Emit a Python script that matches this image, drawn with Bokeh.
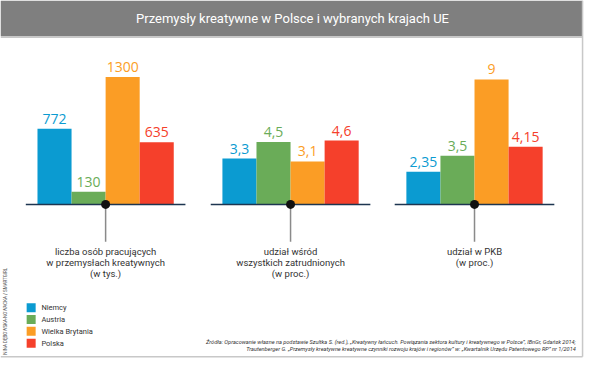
import math
from bokeh.plotting import figure
from bokeh.models import Range1d, ColumnDataSource
from bokeh.core.properties import value
from bokeh.embed import file_html
from bokeh.resources import INLINE

# ---------------- data ----------------
title = "Przemysły kreatywne w Polsce i wybranych krajach UE"
countries = ["Niemcy", "Austria", "Wielka Brytania", "Polska"]
colors = ["#0b9bd1", "#6aac58", "#fb9d25", "#f5402b"]
employed_thousands = [772, 130, 1300, 635]
share_of_employment = [3.3, 4.5, 3.1, 4.6]
share_of_gdp = [2.35, 3.5, 9, 4.15]
group_labels = [
    ["liczba osób pracujących", "w przemysłach kreatywnych", "(w tys.)"],
    ["udział wśród", "wszystkich zatrudnionych", "(w proc.)"],
    ["udział w PKB", "(w proc.)"],
]
source_lines = [
    "Źródła: Opracowanie własne na podstawie Szultka S. (red.), „Kreatywny łańcuch. Powiązania sektora kultury i kreatywnego w Polsce”, IBnGr, Gdańsk 2014;",
    "Trautenberger G. „Przemysły kreatywne kreatywne czynniki rozwoju krajów i regionów” w: „Kwartalnik Urzędu Patentowego RP” nr 1/2014",
]
credit = "NINA DĘBOWSKA-NOWACKA / SMARTGIRL"


def fmt(v):
    if float(v).is_integer():
        return str(int(v))
    return ("%g" % v).replace(".", ",")


# ---------------- layout ----------------
W, H = 584, 359
SX, SY = W / 600.0, H / 375.0


def fx(px):
    return px * SX


def fy(py):
    return py * SY


base_py = 213
k_count = 133.0 * SY / 1300.0   # px per thousand persons
k_pct = 14.5 * SY               # px per percentage point
below = H - fy(base_py)
above = fy(base_py)

p = figure(width=W, height=H, x_range=Range1d(0, W), y_range=Range1d(H, 0),
           output_backend="svg", toolbar_location=None, min_border=0,
           x_axis_location=None, y_axis_location=None)
p.grid.visible = False
p.outline_line_color = None
p.background_fill_color = "white"
p.border_fill_color = "white"
p.extra_y_ranges = {
    "count": Range1d(-below / k_count, above / k_count),
    "pct": Range1d(-below / k_pct, above / k_pct),
}

# header
p.quad(left=[0], right=[fx(598)], top=[0], bottom=[fy(37)], fill_color="#7f7f7f", line_color=None)
p.segment(x0=[0], x1=[fx(598)], y0=[fy(38)], y1=[fy(38)], line_color="#c8c8c8", line_width=2)
p.text(x=[fx(300)], y=[fy(19)], text=[title], text_color="white", text_align="center",
       text_baseline="middle", text_font=value("Roboto"), text_font_size="13px")

# frame lines (right edge, bottom)
p.segment(x0=[fx(598)], x1=[fx(598)], y0=[0], y1=[fy(372)], line_color="#c8c8c8", line_width=1.5)
p.segment(x0=[0], x1=[fx(598)], y0=[fy(372)], y1=[fy(372)], line_color="#c8c8c8", line_width=1.5)

centers = [108, 298, 487]
bar_w = 35 * SX
series = [(employed_thousands, "count", k_count), (share_of_employment, "pct", k_pct),
          (share_of_gdp, "pct", k_pct)]
label_gap_px = 10  # distance from bar top to the middle of the value label

for gi, (vals, rng, k) in enumerate(series):
    c = centers[gi]
    xs = [fx(c) + (i - 1.5) * bar_w for i in range(len(vals))]
    src = ColumnDataSource(dict(x=xs, top=vals, color=colors,
                                label_y=[v + label_gap_px / k for v in vals],
                                label=[fmt(v) for v in vals]))
    p.vbar(x="x", top="top", bottom=0, width=bar_w, fill_color="color",
           line_color=None, source=src, y_range_name=rng)
    p.text(x="x", y="label_y", text="label", text_color="color", text_align="center",
           text_baseline="middle", source=src, y_range_name=rng,
           text_font=value("Open Sans"), text_font_size="14px")
    # baseline
    p.segment(x0=[fx(c - 82)], x1=[fx(c + 82)], y0=[fy(base_py)], y1=[fy(base_py)],
              line_color="#1d3550", line_width=1.5)
    # stem and dot
    p.segment(x0=[fx(c)], x1=[fx(c)], y0=[fy(base_py)], y1=[fy(252)],
              line_color="#8a8a8a", line_width=1.5)
    p.scatter(x=[fx(c)], y=[fy(base_py)], size=9, marker="circle",
              fill_color="#111111", line_color=None)
    lines = group_labels[gi]
    p.text(x=[fx(c)] * len(lines), y=[fy(262 + 11.5 * j) for j in range(len(lines))],
           text=lines, text_color="#333333", text_align="center", text_baseline="middle",
           text_font=value("Roboto"), text_font_size="9.5px")

# legend
ly = [fy(321 + 12.3 * i) for i in range(len(countries))]
p.scatter(x=[fx(31.5)] * len(countries), y=ly, marker="square", size=9,
          fill_color=colors, line_color=None)
p.text(x=[fx(42)] * len(countries), y=ly, text=countries, text_color="#333333",
       text_align="left", text_baseline="middle", text_font=value("Roboto"),
       text_font_size="7.5px")

# sources
p.text(x=[fx(591)] * 2, y=[fy(357), fy(364.5)], text=source_lines, text_color="#333333",
       text_align="right", text_baseline="middle", text_font=value("Roboto"),
       text_font_style="italic", text_font_size="5.6px")

# vertical credit
p.text(x=[fx(5)], y=[fy(370)], text=[credit], angle=math.pi / 2, text_color="#555555",
       text_align="left", text_baseline="middle", text_font=value("Roboto"),
       text_font_size="4.5px")

open("out.html", "w").write(file_html(p, INLINE))
